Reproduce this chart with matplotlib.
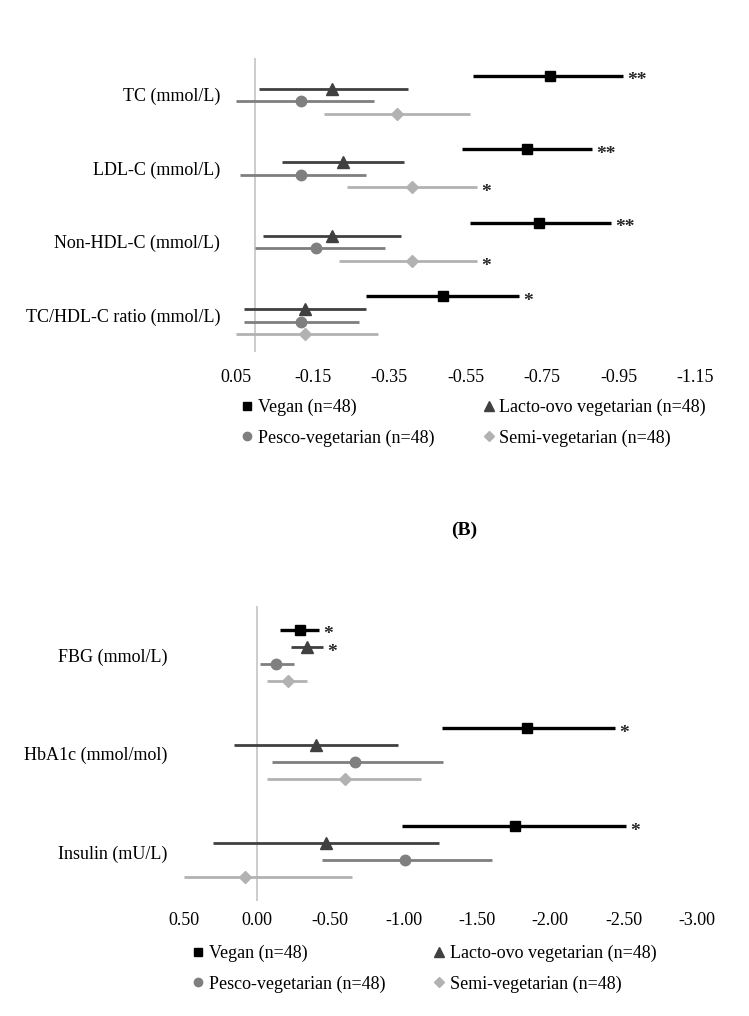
import matplotlib
matplotlib.use('Agg')
import matplotlib.pyplot as plt
from matplotlib.lines import Line2D

plt.rcParams['font.family'] = ['Liberation Serif', 'DejaVu Serif']

# ---- data (change from baseline) ----
groups = ['Vegan (n=48)', 'Lacto-ovo vegetarian (n=48)',
          'Pesco-vegetarian (n=48)', 'Semi-vegetarian (n=48)']
markers = ['s', '^', 'o', 'D']
colors = ['#000000', '#404040', '#7f7f7f', '#b2b2b2']

# panel A: lipids
lip_labels = ['TC (mmol/L)', 'LDL-C (mmol/L)', 'Non-HDL-C (mmol/L)',
              'TC/HDL-C ratio (mmol/L)']
lip_mean = [[-0.77, -0.20, -0.12, -0.37],
            [-0.71, -0.23, -0.12, -0.41],
            [-0.74, -0.20, -0.16, -0.41],
            [-0.49, -0.13, -0.12, -0.13]]
lip_lo = [[-0.57, -0.01, 0.05, -0.18],
          [-0.54, -0.07, 0.04, -0.24],
          [-0.56, -0.02, 0.00, -0.22],
          [-0.29, 0.03, 0.03, 0.05]]
lip_hi = [[-0.96, -0.40, -0.31, -0.56],
          [-0.88, -0.39, -0.29, -0.58],
          [-0.93, -0.38, -0.34, -0.58],
          [-0.69, -0.29, -0.27, -0.32]]
lip_sig = [['**', '', '', ''],
           ['**', '', '', '*'],
           ['**', '', '', '*'],
           ['*', '', '', '']]
lip_ticks = [0.05, -0.15, -0.35, -0.55, -0.75, -0.95, -1.15]

# panel B: glycaemic markers
gly_labels = ['FBG (mmol/L)', 'HbA1c (mmol/mol)', 'Insulin (mU/L)']
gly_mean = [[-0.29, -0.34, -0.13, -0.21],
            [-1.84, -0.40, -0.67, -0.60],
            [-1.76, -0.47, -1.01, 0.08]]
gly_lo = [[-0.16, -0.23, -0.02, -0.07],
          [-1.26, 0.16, -0.10, -0.07],
          [-0.99, 0.30, -0.44, 0.50]]
gly_hi = [[-0.42, -0.45, -0.25, -0.34],
          [-2.44, -0.96, -1.27, -1.12],
          [-2.52, -1.24, -1.60, -0.65]]
gly_sig = [['*', '*', '', ''],
           ['*', '', '', ''],
           ['*', '', '', '']]
gly_ticks = [0.50, 0.00, -0.50, -1.00, -1.50, -2.00, -2.50, -3.00]

offsets = [-0.26, -0.085, 0.085, 0.26]
lwidths = [2.4, 2.0, 2.0, 2.0]
msizes = [7.5, 8.5, 7.5, 6.5]


def forest(ax, labels, mean, lo, hi, sig, ticks, tick_pad):
    n = len(labels)
    ax.axvline(0, color='#bfbfbf', lw=1.1, zorder=0)
    for i in range(n):
        for j in range(4):
            y = i + offsets[j]
            ax.hlines(y, lo[i][j], hi[i][j], color=colors[j], lw=lwidths[j], zorder=2)
            ax.plot(mean[i][j], y, marker=markers[j], color=colors[j],
                    markersize=msizes[j], zorder=3)
            if sig[i][j]:
                ax.annotate(sig[i][j], (hi[i][j], y), xytext=(3, -7),
                            textcoords='offset points', ha='left', va='baseline',
                            fontsize=14, fontweight='bold', color='#262626')
    ax.set_xlim(ticks[0], ticks[-1])
    ax.set_ylim(n - 0.5, -0.5)
    ax.set_xticks(ticks)
    ax.set_xticklabels(['%.2f' % t for t in ticks], fontsize=13)
    ax.set_yticks(range(n))
    ax.set_yticklabels(labels, fontsize=13)
    ax.tick_params(axis='x', length=0, pad=tick_pad)
    ax.tick_params(axis='y', length=0, pad=11.5)
    for s in ax.spines.values():
        s.set_visible(False)


fig = plt.figure(figsize=(7.49, 10.16), dpi=100)

ax1 = fig.add_axes([0.3151, 0.6535, 0.6135, 0.2894])
forest(ax1, lip_labels, lip_mean, lip_lo, lip_hi, lip_sig, lip_ticks, 12)

ax2 = fig.add_axes([0.2453, 0.1132, 0.6850, 0.2903])
forest(ax2, gly_labels, gly_mean, gly_lo, gly_hi, gly_sig, gly_ticks, 8)

handles = [Line2D([], [], linestyle='none', marker=markers[j], color=colors[j],
                  markersize=[6, 7, 6, 5.5][j]) for j in range(4)]
# legend order: row-wise (Vegan, Lacto / Pesco, Semi)
order = [0, 2, 1, 3]
leg_kw = dict(ncol=2, frameon=False, fontsize=13, handlelength=0.6,
              handletextpad=0.3, columnspacing=2.7, labelspacing=0.72,
              borderpad=0, borderaxespad=0, loc='upper left',
              bbox_transform=fig.transFigure)
fig.legend([handles[k] for k in order], [groups[k] for k in order],
           bbox_to_anchor=(0.3226, 1 - 399 / 1016), **leg_kw)
fig.legend([handles[k] for k in order], [groups[k] for k in order],
           bbox_to_anchor=(0.2571, 1 - 945 / 1016), **leg_kw)

fig.text(464 / 749, 1 - 530 / 1016, '(B)', ha='center', va='center',
         fontsize=14, fontweight='bold')

fig.savefig('out.png', dpi=100)
